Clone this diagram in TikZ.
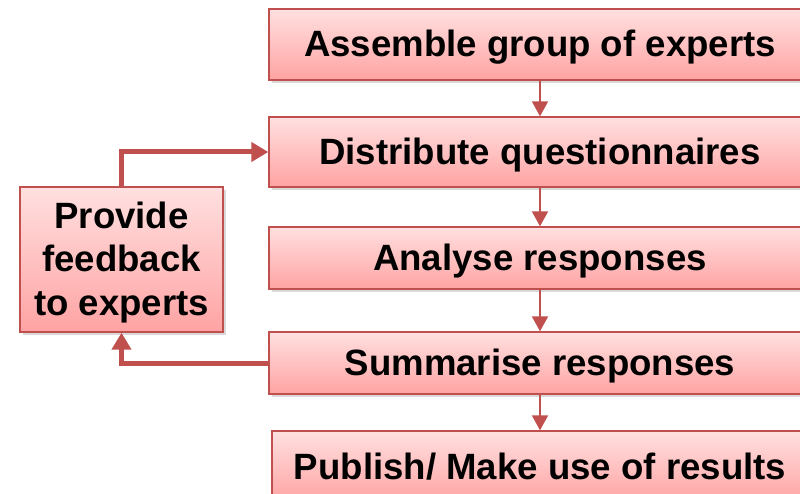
\documentclass[tikz,border=0pt]{standalone}
\usepackage{fontspec}
\setmainfont{Liberation Sans}
\usetikzlibrary{arrows.meta,shadows}
\definecolor{boxline}{HTML}{C0504D}
\definecolor{boxtop}{HTML}{FFE0E0}
\definecolor{boxbot}{HTML}{FFA3A3}
\begin{document}
\begin{tikzpicture}[x=1pt,y=-1pt,
  stagebox/.style={draw=boxline, line width=1.4pt,
    top color=boxtop, bottom color=boxbot,
    font=\bfseries\fontsize{36.6}{43.5}\selectfont,
    inner sep=0pt,
    drop shadow={opacity=0.3, shadow xshift=2.5pt, shadow yshift=-3pt}},
  wide/.style={stagebox, minimum width=542pt, text height=25pt, text depth=0pt},
  flow/.style={draw=boxline, line width=2pt,
    -{Triangle[length=15pt,width=16pt]}},
  loopback/.style={draw=boxline, line width=5pt,
    -{Triangle[length=17pt,width=19pt]}}]
  \useasboundingbox (0,0) rectangle (800,494);

  % main sequence of stages
  \node[wide, minimum height=71pt] (assemble) at (540,44.5) {Assemble group of experts};
  \node[wide, minimum height=70pt] (distribute) at (540,152) {Distribute questionnaires};
  \node[wide, minimum height=62pt] (analyse) at (540,258) {Analyse responses};
  \node[wide, minimum height=62pt] (summarise) at (540,363) {Summarise responses};
  \node[wide, minimum height=71pt, minimum width=536pt] (publish) at (540,466.5) {Publish/ Make use of results};

  % feedback stage on the left (the strut lowers the three lines a little)
  \node[stagebox, minimum width=203pt, minimum height=145pt, align=center] (feedback) at (121.5,259.5)
    {\rule{0pt}{32pt}Provide\\feedback\\to experts};

  % connectors
  \draw[flow] (assemble) -- (distribute);
  \draw[flow] (distribute) -- (analyse);
  \draw[flow] (analyse) -- (summarise);
  \draw[flow] (summarise) -- (publish);
  \draw[loopback] (feedback.north) |- (distribute.west);
  \draw[loopback] (summarise.west) -| (feedback.south);
\end{tikzpicture}
\end{document}
